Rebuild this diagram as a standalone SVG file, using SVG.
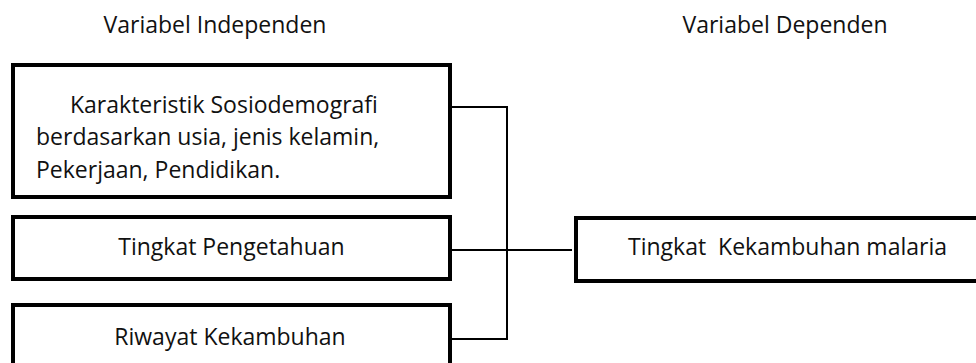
<svg xmlns="http://www.w3.org/2000/svg" width="976" height="363" viewBox="0 0 976 363">
  <style>
    text { font-family: "Open Sans", "Noto Sans", "Liberation Sans", sans-serif; font-size: 23px; fill: #111; }
    .box { fill: #fff; stroke: #000; stroke-width: 4; }
    .link { fill: none; stroke: #000; stroke-width: 2; }
    .mid { text-anchor: middle; }
  </style>
  <rect width="976" height="363" fill="#fff"/>

  <!-- column headings -->
  <text class="mid" x="215" y="33">Variabel Independen</text>
  <text class="mid" x="785" y="33">Variabel Dependen</text>

  <!-- connectors -->
  <g id="connectors">
    <path class="link" d="M452 107 H507 V339 H452"/>
    <path class="link" d="M452 250 H572"/>
  </g>

  <g id="sosiodemografi">
    <rect class="box" x="13" y="65" width="437" height="132"/>
    <text x="70" y="113">Karakteristik Sosiodemografi</text>
    <text x="36" y="145">berdasarkan usia, jenis kelamin,</text>
    <text x="36" y="178">Pekerjaan, Pendidikan.</text>
  </g>

  <g id="pengetahuan">
    <rect class="box" x="13" y="217" width="437" height="62"/>
    <text class="mid" x="231.5" y="255">Tingkat Pengetahuan</text>
  </g>

  <g id="riwayat">
    <rect class="box" x="13" y="305" width="437" height="70"/>
    <text class="mid" x="230" y="345">Riwayat Kekambuhan</text>
  </g>

  <g id="kekambuhan">
    <rect class="box" x="576" y="218" width="410" height="63"/>
    <text class="mid" x="787.5" y="255" xml:space="preserve">Tingkat  Kekambuhan malaria</text>
  </g>
</svg>
